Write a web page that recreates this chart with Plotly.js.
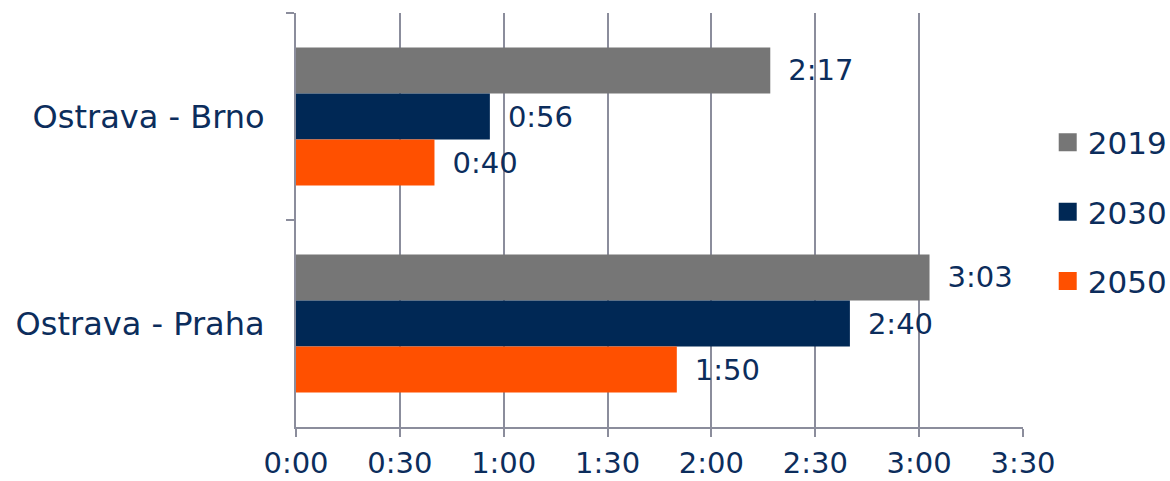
<!DOCTYPE html>
<html>
<head>
<meta charset="utf-8">
<script src="https://cdn.plot.ly/plotly-3.0.1.min.js"></script>
<style>html,body{margin:0;padding:0;background:#fff;}#chart{width:1170px;height:481px;}</style>
</head>
<body>
<div id="chart"></div>
<script>
const categories = ['Ostrava - Brno', 'Ostrava - Praha'];
const seriesNames = ['2019', '2030', '2050'];
const values2019 = [137, 183];   // minutes (2:17, 3:03)
const values2030 = [56, 160];    // minutes (0:56, 2:40)
const values2050 = [40, 110];    // minutes (0:40, 1:50)
const tickValues = [0, 30, 60, 90, 120, 150, 180, 210];
const tickLabels = ['0:00', '0:30', '1:00', '1:30', '2:00', '2:30', '3:00', '3:30'];
const colors = ['#767676', '#002855', '#FF5000'];

const textColor = '#0c2d5c';
const gridColor = '#8b8d9c';
const font = 'DejaVu Sans, Verdana, sans-serif';

function fmt(m) {
  const h = Math.floor(m / 60);
  const mm = m % 60;
  return h + ':' + (mm < 10 ? '0' : '') + mm;
}

const allValues = [values2019, values2030, values2050];
const traces = allValues.map((vals, i) => ({
  type: 'bar',
  orientation: 'h',
  name: seriesNames[i],
  legendgroup: seriesNames[i],
  y: categories,
  x: vals,
  text: vals.map(fmt),
  texttemplate: ' \u2009%{text}',
  textposition: 'outside',
  constraintext: 'none',
  cliponaxis: false,
  textfont: {family: font, size: 29, color: textColor},
  marker: {color: colors[i], line: {width: 0}},
  hoverinfo: 'none'
}));

const layout = {
  width: 1170,
  height: 481,
  margin: {l: 296, r: 147, t: 13, b: 54, autoexpand: false},
  paper_bgcolor: '#ffffff',
  plot_bgcolor: '#ffffff',
  barmode: 'group',
  bargap: 0.333,
  bargroupgap: 0,
  showlegend: true,
  legend: {
    x: 1.034, xanchor: 'left',
    y: 0.52, yanchor: 'middle',
    font: {family: font, size: 31, color: textColor},
    tracegroupgap: 26,
    itemwidth: 30
  },
  xaxis: {
    range: [0, 210],
    tickvals: tickValues,
    ticktext: tickLabels,
    showgrid: true,
    gridcolor: gridColor,
    gridwidth: 2,
    zeroline: false,
    showline: true,
    linecolor: gridColor,
    linewidth: 2,
    ticks: 'outside',
    ticklen: 8,
    tickwidth: 2,
    tickcolor: gridColor,
    tickfont: {family: font, size: 29, color: textColor},
    ticklabelstandoff: 1,
    fixedrange: true
  },
  yaxis: {
    type: 'category',
    autorange: 'reversed',
    showgrid: false,
    zeroline: false,
    showline: true,
    linecolor: gridColor,
    linewidth: 2,
    ticks: 'outside',
    tickson: 'boundaries',
    ticklen: 8,
    tickwidth: 2,
    tickcolor: gridColor,
    tickfont: {family: font, size: 32, color: textColor},
    ticklabelstandoff: 23,
    fixedrange: true
  }
};

Plotly.newPlot('chart', traces, layout, {displayModeBar: false, staticPlot: true}).then(gd => {
  // enlarge legend swatches to match the reference's square markers
  gd.querySelectorAll('.legend .legendpoints path').forEach(p => {
    p.setAttribute('d', 'M-9,-9H9V9H-9Z');
  });
});
</script>
</body>
</html>
